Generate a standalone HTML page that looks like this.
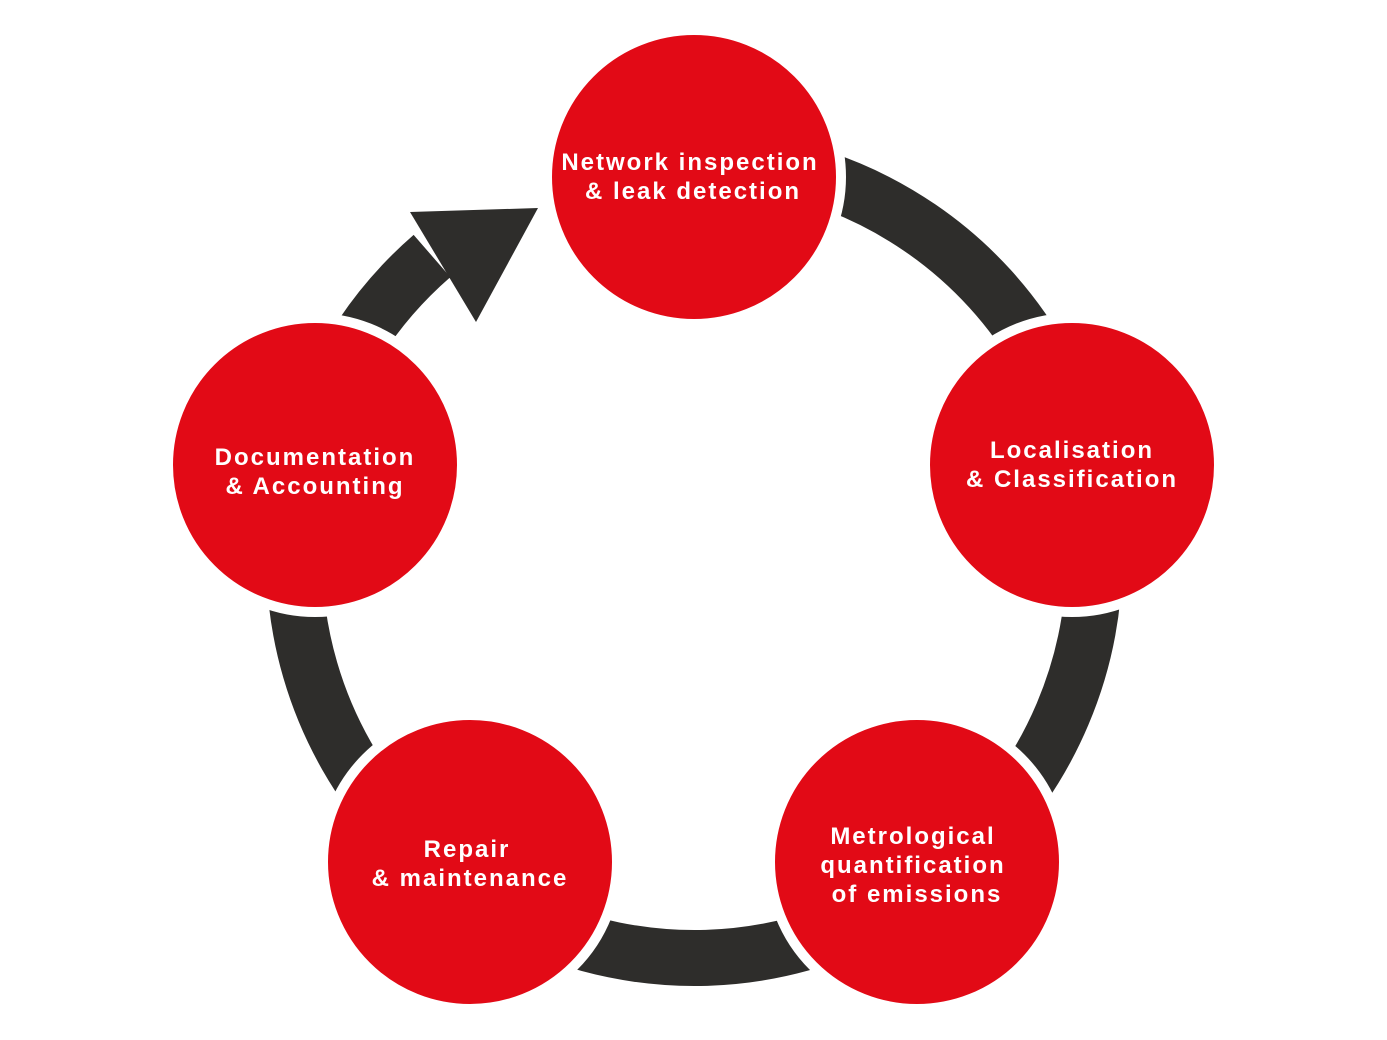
<!DOCTYPE html>
<html><head><meta charset="utf-8"><style>
html,body{margin:0;padding:0;background:#fff;}
svg{display:block;}
text{font-family:"Liberation Sans",sans-serif;font-weight:bold;font-size:24px;fill:#fff;text-anchor:middle;letter-spacing:2px;}
</style></head><body>
<svg width="1387" height="1040" viewBox="0 0 1387 1040">
<path d="M432,256 A400,400 0 1 0 763,164" fill="none" stroke="#2e2d2b" stroke-width="56"/>
<polygon points="410,212 538,208 476,322" fill="#2e2d2b"/>
<g fill="#e20a16" stroke="#fff" stroke-width="10">
<circle cx="694" cy="177" r="147"/>
<circle cx="1072" cy="465" r="147"/>
<circle cx="917" cy="862" r="147"/>
<circle cx="470" cy="862" r="147"/>
<circle cx="315" cy="465" r="147"/>
</g>
<text x="690" y="170">Network inspection</text>
<text x="693" y="199">&amp; leak detection</text>
<text x="1072" y="458">Localisation</text>
<text x="1072" y="487">&amp; Classification</text>
<text x="913" y="844">Metrological</text>
<text x="913" y="873">quantification</text>
<text x="917" y="902">of emissions</text>
<text x="467" y="857">Repair</text>
<text x="470" y="886">&amp; maintenance</text>
<text x="315" y="465">Documentation</text>
<text x="315" y="494">&amp; Accounting</text>
</svg>
</body></html>
